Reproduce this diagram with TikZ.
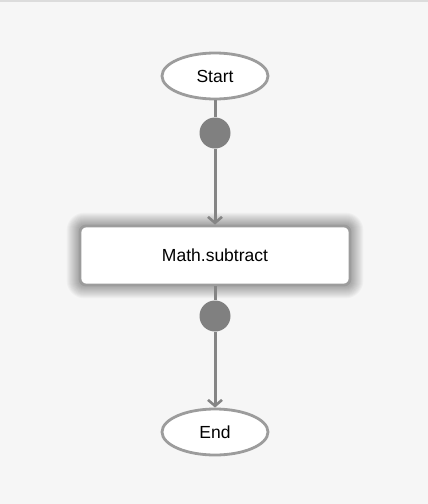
\documentclass[tikz,border=0pt]{standalone}
\usepackage{fontspec}
\setmainfont{Liberation Sans}
\usetikzlibrary{shapes.geometric, arrows.meta, backgrounds, positioning}

\definecolor{bgcol}{HTML}{F6F6F6}
\definecolor{topline}{HTML}{DCDCDC}
\definecolor{bordercol}{HTML}{9C9C9C}
\definecolor{flowcol}{HTML}{858585}
\definecolor{dotcol}{HTML}{808080}

\tikzset{
    terminal/.style={draw=bordercol, line width=2.8pt, fill=white, ellipse,
        minimum width=106pt, minimum height=46pt, inner sep=0pt, font=\fontsize{17.5}{20}\selectfont},
    task/.style={draw=bordercol, line width=2.8pt, fill=white, rounded corners=6pt,
        minimum width=270pt, minimum height=59pt, inner sep=0pt, font=\fontsize{17.5}{20}\selectfont},
    glow/.style={fill=black, opacity=0.026},
    port/.style={circle, fill=dotcol, minimum size=31pt, inner sep=0pt},
    flow/.style={draw=flowcol, line width=3pt},
    flowarrow/.style={flow, -{Straight Barb[length=6pt, width=14pt, line width=2.6pt]}}
}

\begin{document}
\begin{tikzpicture}[x=1pt, y=-1pt]
    \useasboundingbox (0,0) rectangle (428,504);

    % Nodes
    \node[terminal] (start) at (215,76) {Start};
    \node[port] (port1) at (215,133) {};
    \node[task] (subtract) at (215,255.5) {Math.subtract};
    \node[port] (port2) at (215,316) {};
    \node[terminal] (end) at (215,432) {End};

    % Background and glow
    \begin{scope}[on background layer]
        \fill[bgcol] (0,0) rectangle (428,504);
        \fill[topline] (0,0) rectangle (428,2);
        \foreach \g in {1,...,12}
            \fill[glow, rounded corners=6+\g] ([shift={(-\g,-\g)}]subtract.north west)
                rectangle ([shift={(\g,\g)}]subtract.south east);
    \end{scope}

    % Connections
    \draw[flow] (start) -- (port1);
    \draw[flowarrow] (port1) -- (subtract);
    \draw[flow] (subtract) -- (port2);
    \draw[flowarrow] (port2) -- (end);

\end{tikzpicture}
\end{document}
